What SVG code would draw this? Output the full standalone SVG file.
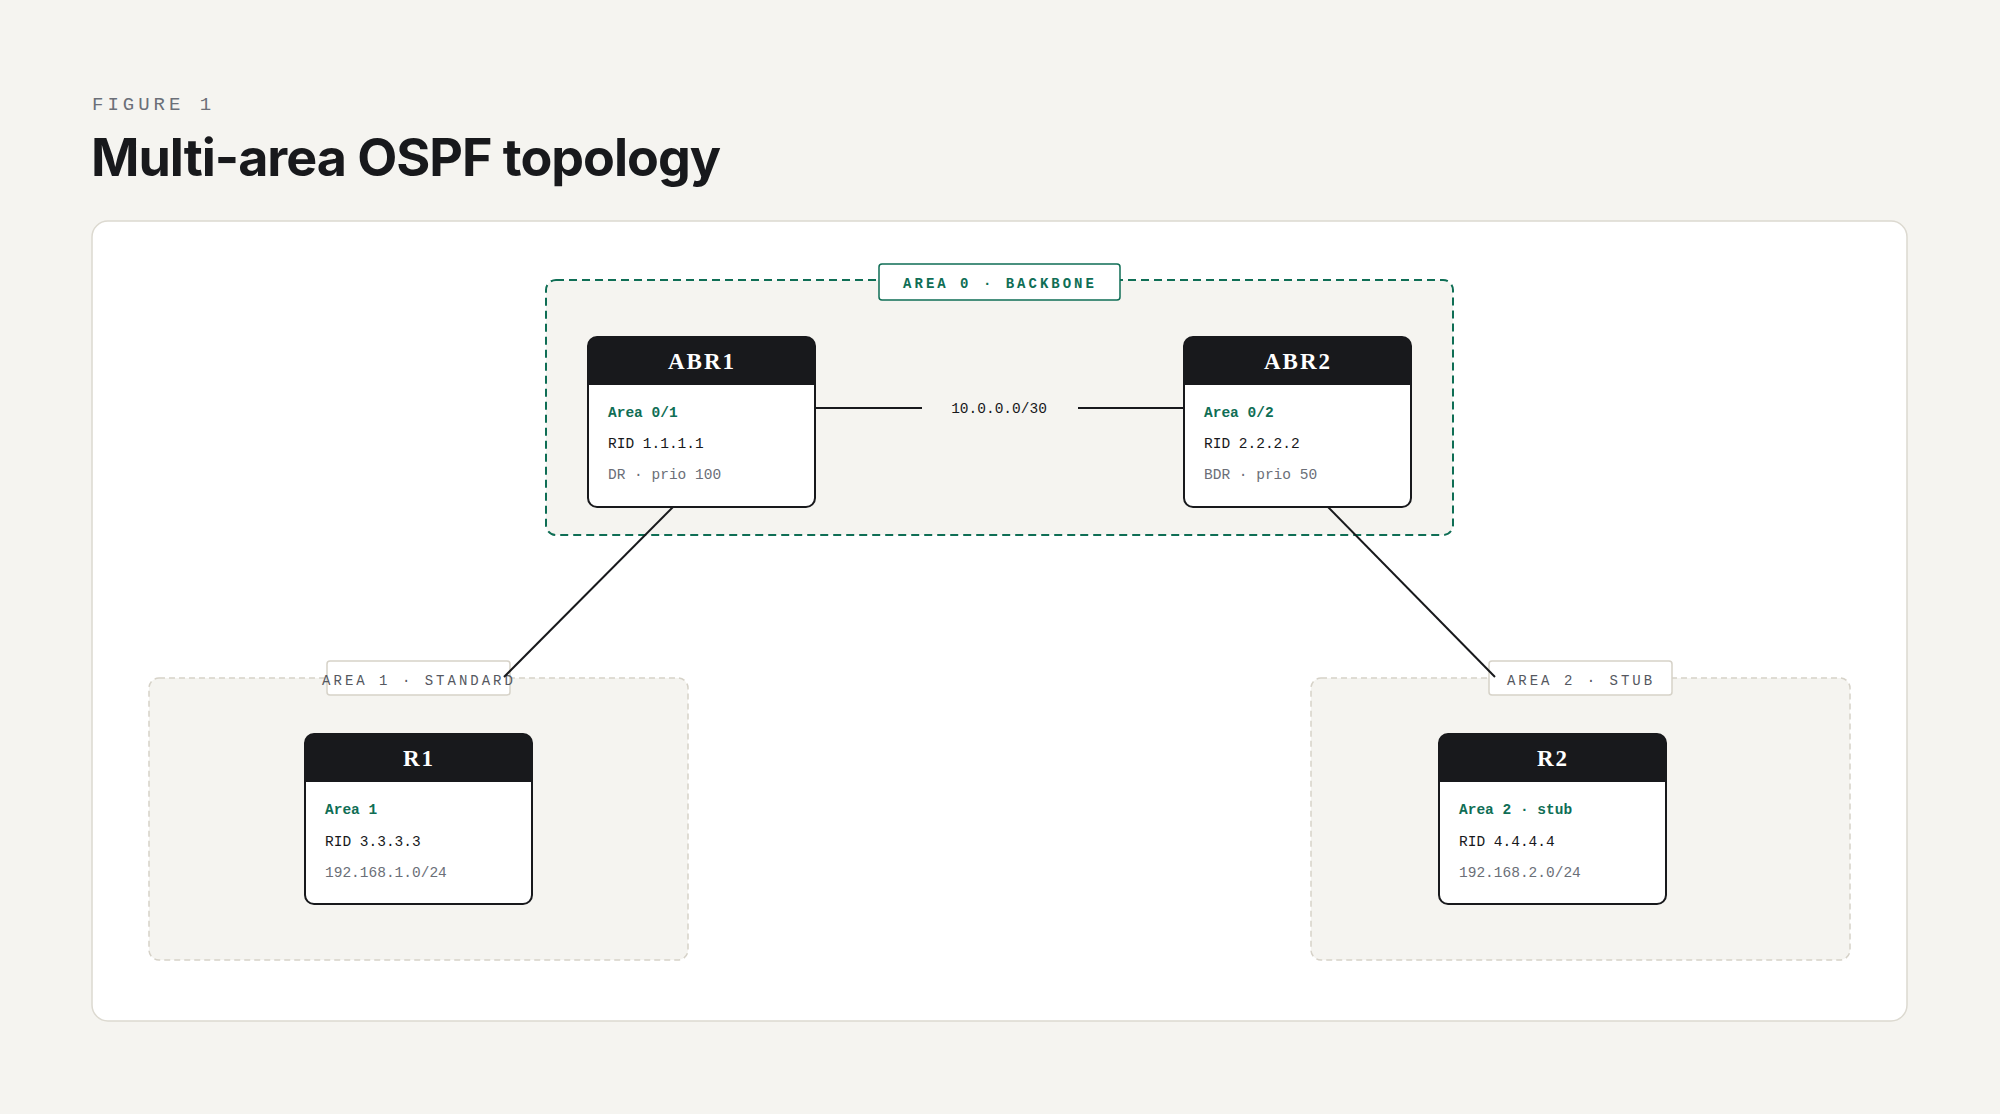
<svg xmlns="http://www.w3.org/2000/svg" width="2000" height="1114" viewBox="0 0 2000 1114">
<style>
.hdr{font-family:"Liberation Serif",serif;font-weight:bold;font-size:23px;fill:#fff;letter-spacing:2px;text-anchor:middle}
.mono{font-family:"Liberation Mono",monospace;font-size:14.5px}
.area{fill:#0f6e55;font-weight:bold}
.rid{fill:#18191c}
.sub{fill:#6b6f78}
.body{fill:#fff;stroke:#18191c;stroke-width:2}
.link{stroke:#18191c;stroke-width:2;fill:none}
.albl{font-family:"Liberation Mono",monospace;font-size:14px;letter-spacing:3px;text-anchor:middle}
</style>
<rect width="2000" height="1114" fill="#f5f4f0"/>
<text x="92" y="110" font-family="Liberation Mono,monospace" font-size="19" letter-spacing="4" fill="#6b6f78">FIGURE 1</text>
<text x="91" y="176" font-family="Inter,Liberation Sans,sans-serif" font-weight="bold" font-size="52" letter-spacing="-1" fill="#18191c">Multi-area OSPF topology</text>
<rect x="92" y="221" width="1815" height="800" rx="16" fill="#fff" stroke="#dcd9d0" stroke-width="1.5"/>

<g id="area0">
<rect x="546" y="280" width="907" height="255" rx="10" fill="#f5f4f0" stroke="#0f6e55" stroke-width="2" stroke-dasharray="8 5"/>
<rect x="879" y="264" width="241" height="36" rx="3" fill="#fff" stroke="#0f6e55" stroke-width="1.5"/>
<text x="1000" y="288" class="albl" fill="#0f6e55" font-weight="bold">AREA 0 · BACKBONE</text>
</g>
<g id="area1">
<rect x="149" y="678" width="539" height="282" rx="10" fill="#f5f4f0" stroke="#d6d2c8" stroke-width="1.5" stroke-dasharray="6 4"/>
<rect x="327" y="661" width="183" height="34" rx="3" fill="#fff" stroke="#d6d2c8" stroke-width="1.5"/>
<text x="419" y="685" class="albl" fill="#55585f">AREA 1 · STANDARD</text>
</g>
<g id="area2">
<rect x="1311" y="678" width="539" height="282" rx="10" fill="#f5f4f0" stroke="#d6d2c8" stroke-width="1.5" stroke-dasharray="6 4"/>
<rect x="1489" y="661" width="183" height="34" rx="3" fill="#fff" stroke="#d6d2c8" stroke-width="1.5"/>
<text x="1581" y="685" class="albl" fill="#55585f">AREA 2 · STUB</text>
</g>

<g id="connectors">
<line class="link" x1="815" y1="408" x2="922" y2="408"/>
<line class="link" x1="1078" y1="408" x2="1184" y2="408"/>
<text x="999" y="413" class="mono" fill="#18191c" text-anchor="middle">10.0.0.0/30</text>
<line class="link" x1="673" y1="507" x2="504" y2="677"/>
<line class="link" x1="1328" y1="507" x2="1495" y2="677"/>
</g>

<g id="ABR1">
<rect class="body" x="588" y="337" width="227" height="170" rx="9"/>
<path d="M588 385V346a9 9 0 0 1 9-9h209a9 9 0 0 1 9 9v39z" fill="#18191c"/>
<text x="702" y="369" class="hdr">ABR1</text>
<text x="608" y="417" class="mono area">Area 0/1</text>
<text x="608" y="448" class="mono rid">RID 1.1.1.1</text>
<text x="608" y="479" class="mono sub">DR · prio 100</text>
</g>
<g id="ABR2">
<rect class="body" x="1184" y="337" width="227" height="170" rx="9"/>
<path d="M1184 385V346a9 9 0 0 1 9-9h209a9 9 0 0 1 9 9v39z" fill="#18191c"/>
<text x="1298" y="369" class="hdr">ABR2</text>
<text x="1204" y="417" class="mono area">Area 0/2</text>
<text x="1204" y="448" class="mono rid">RID 2.2.2.2</text>
<text x="1204" y="479" class="mono sub">BDR · prio 50</text>
</g>
<g id="R1">
<rect class="body" x="305" y="734" width="227" height="170" rx="9"/>
<path d="M305 782V743a9 9 0 0 1 9-9h209a9 9 0 0 1 9 9v39z" fill="#18191c"/>
<text x="419" y="766" class="hdr">R1</text>
<text x="325" y="814" class="mono area">Area 1</text>
<text x="325" y="846" class="mono rid">RID 3.3.3.3</text>
<text x="325" y="877" class="mono sub">192.168.1.0/24</text>
</g>
<g id="R2">
<rect class="body" x="1439" y="734" width="227" height="170" rx="9"/>
<path d="M1439 782V743a9 9 0 0 1 9-9h209a9 9 0 0 1 9 9v39z" fill="#18191c"/>
<text x="1553" y="766" class="hdr">R2</text>
<text x="1459" y="814" class="mono area">Area 2 · stub</text>
<text x="1459" y="846" class="mono rid">RID 4.4.4.4</text>
<text x="1459" y="877" class="mono sub">192.168.2.0/24</text>
</g>
</svg>
